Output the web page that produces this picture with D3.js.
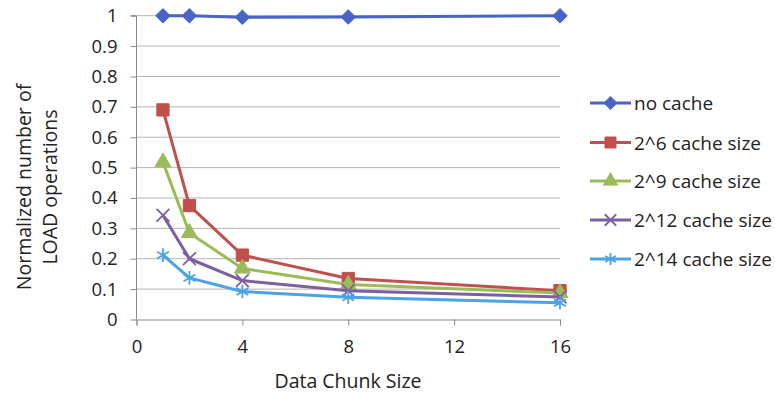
<!DOCTYPE html>
<html>
<head>
<meta charset="utf-8">
<script src="https://cdn.jsdelivr.net/npm/d3@7"></script>
<style>
  body { margin: 0; background: white; }
  text { font-family: "Open Sans", sans-serif; fill: #222; }
</style>
</head>
<body>
<div id="container"></div>
<script>
const chunkSizes = [1, 2, 4, 8, 16]
const seriesNames = ["no cache", "2^6 cache size", "2^9 cache size", "2^12 cache size", "2^14 cache size"]
const noCache = [1, 1, 0.995, 0.996, 1]
const cache6 = [0.69, 0.375, 0.212, 0.135, 0.095]
const cache9 = [0.518, 0.285, 0.168, 0.115, 0.087]
const cache12 = [0.343, 0.2, 0.128, 0.095, 0.074]
const cache14 = [0.212, 0.137, 0.092, 0.073, 0.055]
const xTicks = [0, 4, 8, 12, 16]
const yTicks = [0, 0.1, 0.2, 0.3, 0.4, 0.5, 0.6, 0.7, 0.8, 0.9, 1]

const w = 775
const h = 395
const colors = ["#4a63c8", "#c0504d", "#9bbb59", "#7d5fa0", "#4aa3e6"]
const symbols = [d3.symbolSquare, d3.symbolSquare, d3.symbolTriangle, d3.symbolX, d3.symbolAsterisk]
const rotations = [45, 0, 0, 0, 0]
const markerSizes = [100, 150, 110, 110, 130]
const allSeries = [noCache, cache6, cache9, cache12, cache14]

const svg = d3.select("#container")
    .append("svg")
    .attr("width", w)
    .attr("height", h)

const xScale = d3.scaleLinear().domain([0, 16]).range([136.5, 560])
const yScale = d3.scaleLinear().domain([0, 1]).range([319.5, 15.7])

// gridlines
svg.append("g")
    .selectAll("line")
    .data(yTicks.filter(d => d > 0))
    .enter()
    .append("line")
    .attr("x1", xScale(0))
    .attr("x2", xScale(16))
    .attr("y1", d => yScale(d))
    .attr("y2", d => yScale(d))
    .attr("stroke", "#b4b4b4")
    .attr("stroke-width", 1)

const xAxis = d3.axisBottom(xScale)
    .tickValues(xTicks)
    .tickSize(6)
    .tickPadding(14)
const yAxis = d3.axisLeft(yScale)
    .tickValues(yTicks)
    .tickFormat(d => d === 0 || d === 1 ? d3.format("d")(d) : d3.format(".1f")(d))
    .tickSize(6)
    .tickPadding(13)

const gx = svg.append("g")
    .attr("transform", `translate(0, ${yScale(0)})`)
    .call(xAxis)
const gy = svg.append("g")
    .attr("transform", `translate(${xScale(0)}, 0)`)
    .call(yAxis)

for (const g of [gx, gy]) {
    g.select(".domain").attr("stroke", "#8a8a8a")
    g.selectAll(".tick line").attr("stroke", "#8a8a8a")
    g.selectAll(".tick text")
        .style("font-size", "18.5px")
        .style("font-family", "'Open Sans', sans-serif")
        .attr("fill", "#222")
}
gy.select(".domain").attr("d", `M-6,${yScale(1)}H0V${yScale(0)}`)

// axis titles
svg.append("text")
    .attr("x", 348)
    .attr("y", 388)
    .attr("text-anchor", "middle")
    .style("font-size", "19.5px")
    .text("Data Chunk Size")

const yTitle = svg.append("text")
    .attr("transform", "translate(0, 187) rotate(-90)")
    .attr("text-anchor", "middle")
    .style("font-size", "19.5px")
yTitle.append("tspan").attr("x", 0).attr("y", 31).text("Normalized number of")
yTitle.append("tspan").attr("x", 0).attr("y", 57).text("LOAD operations")

const line = d3.line()
    .x((d, i) => xScale(chunkSizes[i]))
    .y(d => yScale(d))

function marker(sel, k, scale) {
    const isStroke = k >= 3
    sel.attr("d", d3.symbol().type(symbols[k]).size(markerSizes[k] * scale))
        .attr("fill", isStroke ? "none" : colors[k])
        .attr("stroke", colors[k])
        .attr("stroke-width", isStroke ? 1.8 : 1)
}

allSeries.forEach((values, k) => {
    svg.append("path")
        .datum(values)
        .attr("d", line)
        .attr("fill", "none")
        .attr("stroke", colors[k])
        .attr("stroke-width", 3)
        .attr("stroke-linejoin", "round")
    svg.append("g")
        .selectAll("path")
        .data(values)
        .enter()
        .append("path")
        .attr("transform", (d, i) => `translate(${xScale(chunkSizes[i])}, ${yScale(d)}) rotate(${rotations[k]})`)
        .call(marker, k, 1)
})

// legend
const legendY = [103, 142.5, 181, 220, 259]
const legend = svg.append("g")
seriesNames.forEach((name, k) => {
    const g = legend.append("g").attr("transform", `translate(0, ${legendY[k]})`)
    g.append("line")
        .attr("x1", 590)
        .attr("x2", 631)
        .attr("stroke", colors[k])
        .attr("stroke-width", 3)
    g.append("path")
        .attr("transform", `translate(610.5, 0) rotate(${rotations[k]})`)
        .call(marker, k, 0.8)
    g.append("text")
        .attr("x", 634)
        .attr("y", 7)
        .style("font-size", "19px")
        .text(name)
})
</script>
</body>
</html>
